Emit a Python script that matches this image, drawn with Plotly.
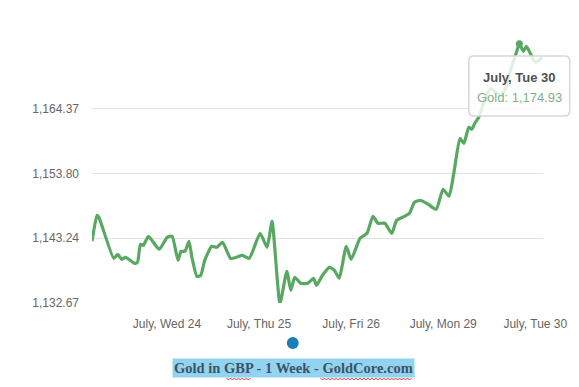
import plotly.graph_objects as go

# ---- data ----
day_pos = [-0.814, -0.760, -0.739, -0.578, -0.535, -0.492, -0.449, -0.352, -0.320, -0.288,
           -0.256, -0.202, -0.084, 0.002, 0.056, 0.120, 0.153, 0.196, 0.239, 0.271,
           0.325, 0.367, 0.410, 0.486, 0.539, 0.604, 0.690, 0.754, 0.818, 0.894,
           1.012, 1.087, 1.141, 1.227, 1.302, 1.345, 1.388, 1.452, 1.528, 1.592,
           1.624, 1.689, 1.764, 1.818, 1.871, 1.947, 2.000, 2.097, 2.172, 2.237,
           2.291, 2.366, 2.441, 2.494, 2.580, 2.634, 2.688, 2.752, 2.838, 2.924,
           2.999, 3.063, 3.117, 3.182, 3.225, 3.278, 3.310, 3.343, 3.386, 3.461,
           3.516, 3.570, 3.624, 3.677, 3.731, 3.796, 3.827, 3.870, 3.903, 3.946,
           3.999, 4.074]
gold_gbp = [1142.73, 1146.97, 1146.64, 1139.96, 1140.61, 1139.80, 1140.12, 1139.14, 1139.31, 1142.24,
            1142.08, 1143.55, 1141.43, 1143.38, 1143.55, 1139.63, 1141.10, 1141.10, 1142.73, 1140.12,
            1137.02, 1137.19, 1139.63, 1141.92, 1141.75, 1142.57, 1139.96, 1140.12, 1140.45, 1139.96,
            1144.03, 1141.75, 1145.99, 1132.62, 1137.84, 1134.74, 1136.86, 1135.88, 1135.88, 1136.70,
            1135.56, 1137.19, 1138.49, 1138.00, 1136.70, 1141.92, 1139.80, 1143.22, 1144.03, 1146.81,
            1145.67, 1145.67, 1144.03, 1146.15, 1146.81, 1147.30, 1149.09, 1149.42, 1148.76, 1147.95,
            1151.21, 1150.07, 1153.98, 1159.52, 1158.71, 1161.32, 1160.99, 1161.97, 1162.95, 1166.21,
            1167.68, 1167.03, 1166.54, 1167.68, 1170.61, 1173.55, 1174.93, 1173.71, 1174.53, 1173.38,
            1171.92, 1172.73]
x_tick_pos = [0, 1, 2, 3, 4]
x_tick_labels = ["July, Wed 24", "July, Thu 25", "July, Fri 26", "July, Mon 29", "July, Tue 30"]
y_tick_vals = [1132.67, 1143.24, 1153.80, 1164.37]
y_tick_labels = ["1,132.67", "1,143.24", "1,153.80", "1,164.37"]
tooltip_title = "July, Tue 30"
series_name = "Gold"
chart_title = "Gold in GBP - 1 Week - GoldCore.com"

line_color = "rgb(88,168,98)"
hi = gold_gbp.index(max(gold_gbp))

fig = go.Figure()
fig.add_trace(go.Scatter(x=day_pos, y=gold_gbp, mode="lines",
                         line=dict(color=line_color, width=3.2, shape="spline", smoothing=0.5),
                         hoverinfo="skip"))
fig.add_trace(go.Scatter(x=[day_pos[hi]], y=[gold_gbp[hi]], mode="markers",
                         marker=dict(color=line_color, size=7), hoverinfo="skip"))

W, H = 579, 387
L, R, T, B = 92, 31, 38, 84
pw, ph = W - L - R, H - T - B


def px(x):
    return (x - L) / pw


def py(y):
    return (H - B - y) / ph


shapes = []
# rounded tooltip box
x0, x1, yt, yb = px(473), px(575), py(56), py(116)
rx, ry = 5 / pw, 5 / ph
path = (f"M {x0+rx},{yt} L {x1-rx},{yt} Q {x1},{yt} {x1},{yt-ry} L {x1},{yb+ry} "
        f"Q {x1},{yb} {x1-rx},{yb} L {x0+rx},{yb} Q {x0},{yb} {x0},{yb+ry} "
        f"L {x0},{yt-ry} Q {x0},{yt} {x0+rx},{yt} Z")
shapes.append(dict(type="path", xref="paper", yref="paper", path=path,
                   fillcolor="rgba(255,255,255,0.82)",
                   line=dict(color="rgba(215,215,215,1)", width=1.5), layer="above"))
# legend-like blue dot
shapes.append(dict(type="circle", xref="paper", yref="paper",
                   x0=px(289), x1=px(301), y0=py(349), y1=py(337),
                   fillcolor="#1c7db7", line=dict(width=0), layer="above"))


def squiggle(xa, xb, yy):
    pts = []
    n = int((xb - xa) / 2)
    for i in range(n + 1):
        xx = xa + i * 2
        pts.append((px(xx), py(yy + (1 if i % 2 else -1))))
    return "M " + " L ".join(f"{a},{b}" for a, b in pts)


for xa, xb in [(228, 253), (323, 415)]:
    shapes.append(dict(type="path", xref="paper", yref="paper", path=squiggle(xa, xb, 379),
                       line=dict(color="rgba(220,40,40,0.9)", width=1), layer="above"))

annotations = [
    dict(xref="paper", yref="paper", x=px(524), y=py(77), text=f"<b>{tooltip_title}</b>",
         showarrow=False, font=dict(family="Liberation Sans, Arial", size=13, color="#505050"),
         xanchor="center", yanchor="middle"),
    dict(xref="paper", yref="paper", x=px(524), y=py(98),
         text=f"{series_name}: {gold_gbp[hi]:,.2f}",
         showarrow=False, font=dict(family="Liberation Sans, Arial", size=13, color="#7fb286"),
         xanchor="center", yanchor="middle"),
    dict(xref="paper", yref="paper", x=px(296), y=py(368), text=f"<b>{chart_title}</b>",
         showarrow=False, font=dict(family="Liberation Serif, serif", size=14.5, color="#3b5366"),
         bgcolor="#93d3ef", borderpad=1, xanchor="center", yanchor="middle"),
]

fig.update_layout(
    width=W, height=H, margin=dict(l=L, r=R, t=T, b=B),
    paper_bgcolor="white", plot_bgcolor="white", showlegend=False,
    shapes=shapes, annotations=annotations,
    xaxis=dict(range=[(L - 167.8) / 93.1, (L + pw - 167.8) / 93.1], tickvals=x_tick_pos,
               ticktext=x_tick_labels, showgrid=False, zeroline=False, showline=False,
               ticks="", ticklabelstandoff=12,
               tickfont=dict(family="Liberation Sans, Arial", size=12, color="#666666")),
    yaxis=dict(range=[1132.67, 1132.67 + ph / 6.133], tickvals=y_tick_vals, ticktext=y_tick_labels,
               showgrid=True, gridcolor="#e3e3e3", gridwidth=1, zeroline=False, showline=False,
               ticks="", ticklabelstandoff=12,
               tickfont=dict(family="Liberation Sans, Arial", size=12, color="#666666")),
)

fig.write_html("out.html")
